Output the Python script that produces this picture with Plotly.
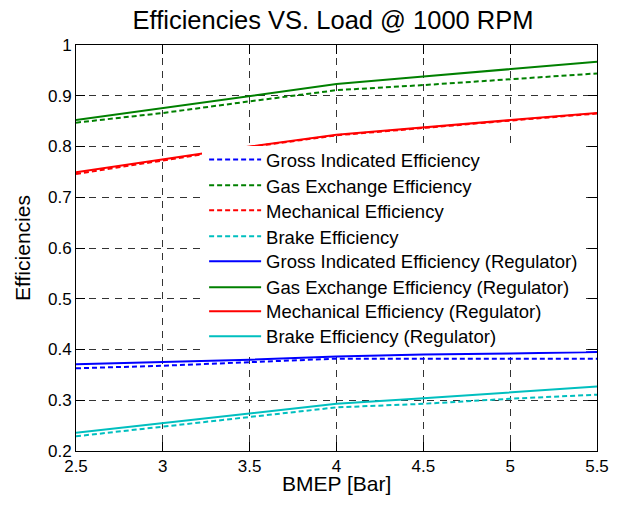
import plotly.graph_objects as go

bmep = [2.5, 3.0, 3.5, 4.0, 4.5, 5.0, 5.5]

gross_ind = [0.363, 0.368, 0.375, 0.382, 0.382, 0.382, 0.382]
gas_exch = [0.847, 0.866, 0.889, 0.911, 0.921, 0.932, 0.944]
mech = [0.746, 0.772, 0.799, 0.822, 0.837, 0.851, 0.865]
brake = [0.229, 0.248, 0.266, 0.286, 0.293, 0.303, 0.311]

gross_ind_reg = [0.371, 0.375, 0.380, 0.386, 0.390, 0.392, 0.395]
gas_exch_reg = [0.852, 0.876, 0.900, 0.923, 0.938, 0.953, 0.967]
mech_reg = [0.749, 0.774, 0.800, 0.823, 0.838, 0.852, 0.866]
brake_reg = [0.236, 0.255, 0.273, 0.293, 0.304, 0.316, 0.327]

names = [
    "Gross Indicated Efficiency",
    "Gas Exchange Efficiency",
    "Mechanical Efficiency",
    "Brake Efficiency",
    "Gross Indicated Efficiency (Regulator)",
    "Gas Exchange Efficiency (Regulator)",
    "Mechanical Efficiency (Regulator)",
    "Brake Efficiency (Regulator)",
]
series = [gross_ind, gas_exch, mech, brake,
          gross_ind_reg, gas_exch_reg, mech_reg, brake_reg]
colors = ["#0000FF", "#008000", "#FF0000", "#00BFBF"] * 2
dashes = ["5px,3px"] * 4 + ["solid"] * 4

# page-space layout helpers (plot area: y=1 at 45px, y=0.2 at 451.5px)
PLOT_TOP, PLOT_H = 45.0, 406.5
entry_px = [160, 186, 211, 237, 262, 288, 312, 337]
legend_keys = ["legend"] + [f"legend{i}" for i in range(2, 9)]

FONT = "Liberation Sans, Arial, sans-serif"

fig = go.Figure()
for i, (nm, ys) in enumerate(zip(names, series)):
    fig.add_trace(go.Scatter(
        x=bmep, y=ys, mode="lines", name=nm, legend=legend_keys[i],
        line=dict(color=colors[i], width=2, dash=dashes[i]),
    ))

legends = {}
for key, py in zip(legend_keys, entry_px):
    legends[key] = dict(
        x=0.2459, y=1 - (py - PLOT_TOP) / PLOT_H, xanchor="left", yanchor="middle",
        bgcolor="rgba(0,0,0,0)", borderwidth=0, itemwidth=52,
        font=dict(size=18.5, color="black", family=FONT),
    )

grid = dict(showgrid=True, gridcolor="#333333", gridwidth=1, griddash="7px,6px",
            showline=True, linecolor="black", linewidth=1, mirror="ticks",
            ticks="inside", ticklen=9, tickcolor="black", zeroline=False,
            automargin=False,
            tickfont=dict(size=17, color="black", family=FONT))

fig.update_layout(
    width=615, height=500,
    paper_bgcolor="white", plot_bgcolor="white",
    margin=dict(l=68, r=26, t=37, b=56.5, autoexpand=False),
    title=dict(text="Efficiencies VS. Load @ 1000 RPM", x=0.5285, xanchor="center",
               y=0.975, yanchor="middle",
               font=dict(size=25.5, color="black", family=FONT)),
    xaxis=dict(range=[2.5, 5.5], dtick=0.5, tick0=2.5, **grid),
    yaxis=dict(range=[0.2, 1.0], dtick=0.1, tick0=0.2,
               title=dict(text="Efficiencies", font=dict(size=21, color="black", family=FONT), standoff=11),
               **grid),
    showlegend=True,
    annotations=[dict(text="BMEP [Bar]", xref="paper", yref="paper",
                      x=0.5, y=1 - (484 - PLOT_TOP) / PLOT_H,
                      xanchor="center", yanchor="middle", showarrow=False,
                      font=dict(size=21, color="black", family=FONT))],
    shapes=[dict(type="rect", xref="paper", yref="paper",
                 x0=(202 - 76) / 521, x1=(586 - 76) / 521,
                 y0=1 - (352 - PLOT_TOP) / PLOT_H, y1=1 - (146 - PLOT_TOP) / PLOT_H,
                 fillcolor="white", line=dict(width=0), layer="above")],
    **legends,
)

fig.write_html("out.html")
